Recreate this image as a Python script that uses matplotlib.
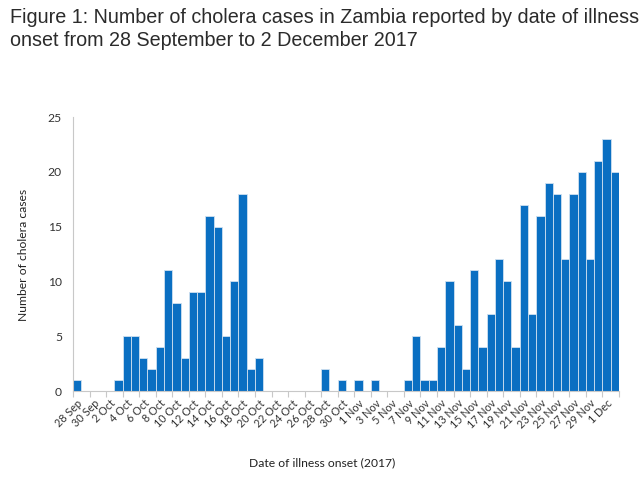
import matplotlib
matplotlib.use("Agg")
import matplotlib.pyplot as plt
import datetime as dt

start = dt.date(2017, 9, 28)
cases = [1, 0, 0, 0, 0, 1, 5, 5, 3, 2, 4, 11, 8, 3, 9, 9, 16, 15, 5, 10, 18, 2, 3,
         0, 0, 0, 0, 0, 0, 0, 2, 0, 1, 0, 1, 0, 1, 0, 0, 0, 1, 5, 1, 1, 4, 10, 6, 2,
         11, 4, 7, 12, 10, 4, 17, 7, 16, 19, 18, 12, 18, 20, 12, 21, 23, 20]
dates = [start + dt.timedelta(days=i) for i in range(len(cases))]
date_labels = [f"{d.day} {d.strftime('%b')}" for d in dates]

title_lines = ["Figure 1: Number of cholera cases in Zambia reported by date of illness",
               "onset from 28 September to 2 December 2017"]
ylabel = "Number of cholera cases"
xlabel = "Date of illness onset (2017)"
yticks = [0, 5, 10, 15, 20, 25]

fig = plt.figure(figsize=(6.44, 4.82), dpi=100)
for line, ypx in zip(title_lines, [22.7, 46.0]):
    fig.text(10/644, 1 - ypx/482, line, ha="left", va="baseline", fontsize=14.2,
             family="Liberation Sans", color="#2b2b2b")

ax = fig.add_axes([73/644, 1-391/482, 546/644, 274/482])
x = list(range(len(cases)))
ax.bar(x, cases, width=1.0, color="#0a6fc2", edgecolor="#cfe0f0", linewidth=0.6)

ax.set_xlim(-0.5, len(cases) - 0.5)
ax.set_ylim(0, 25)
ax.set_yticks(yticks)
ax.tick_params(axis="y", length=0, pad=8, labelsize=8.7, labelcolor="#333333")
for t in ax.get_yticklabels():
    t.set_family("Lato")

major = [i - 0.5 for i in range(0, len(cases) + 1, 2)]
ax.set_xticks(major)
ax.set_xticklabels([""] * len(major))
ax.tick_params(axis="x", which="major", length=4, color="#c8c8c8", width=0.8)
minor = list(range(0, len(cases), 2))
ax.set_xticks(minor, minor=True)
ax.set_xticklabels([date_labels[i] for i in minor], minor=True, rotation=45,
                   ha="right", va="top", rotation_mode="anchor",
                   fontsize=7.8, family="Lato", color="#333333")
ax.tick_params(axis="x", which="minor", length=0, pad=5)

for s in ["top", "right"]:
    ax.spines[s].set_visible(False)
ax.spines["left"].set_color("#c8c8c8")
ax.spines["bottom"].set_color("#c8c8c8")
ax.spines["left"].set_linewidth(0.8)
ax.spines["bottom"].set_linewidth(0.8)

fig.text(24/644, 1-255/482, ylabel, rotation=90, ha="center", va="center",
         fontsize=8.7, family="Lato", color="#222222")
fig.text(322/644, 1-463/482, xlabel, ha="center", va="center",
         fontsize=8.7, family="Lato", color="#222222")

fig.savefig("out.png", dpi=100)
